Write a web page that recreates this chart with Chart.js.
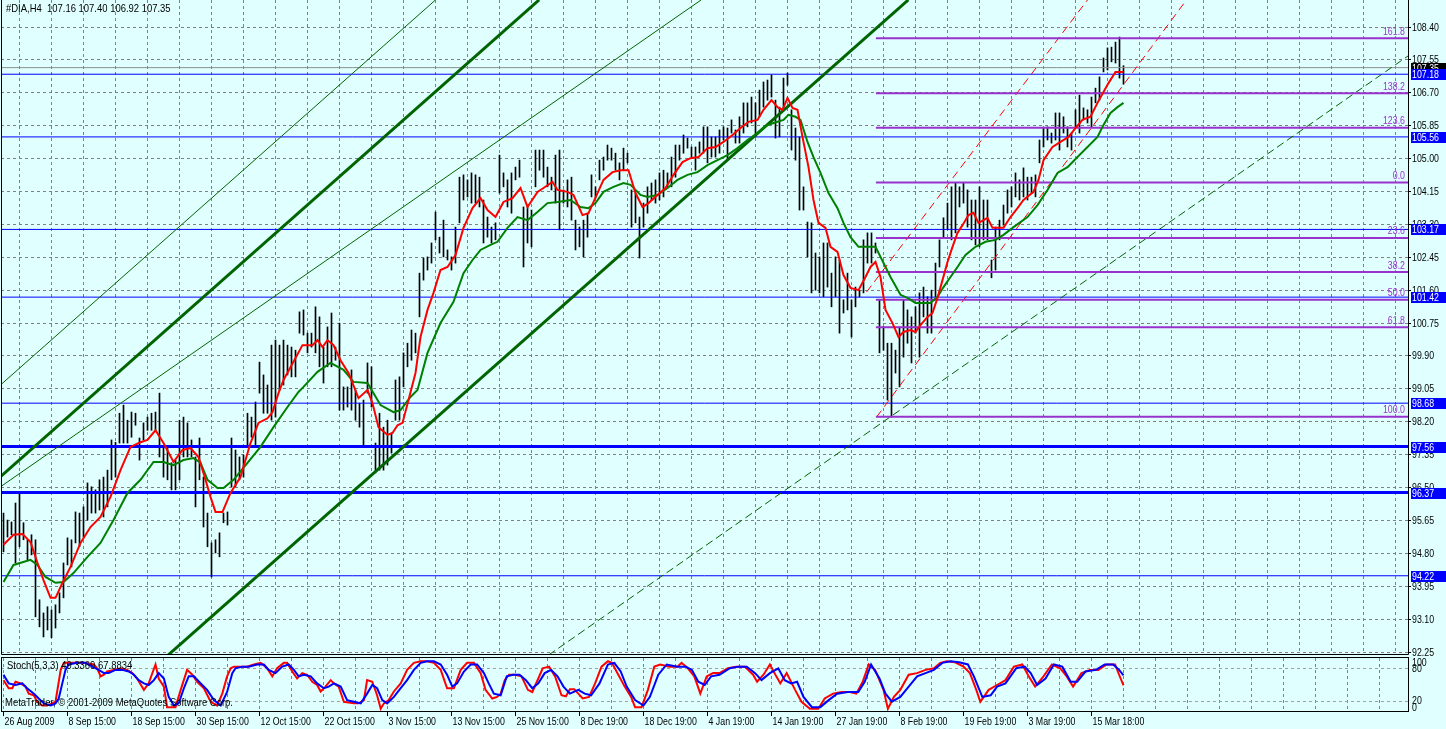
<!DOCTYPE html>
<html>
<head>
<meta charset="utf-8">
<title>#DIA,H4</title>
<script src="https://cdn.jsdelivr.net/npm/chart.js@4.4.0/dist/chart.umd.min.js"></script>
<style>
  html, body { margin: 0; padding: 0; background: #e0ffff; overflow: hidden; }
  #wrap { position: relative; width: 1446px; height: 729px; }
  canvas { position: absolute; left: 0; display: block; }
  #price { top: 0; }
  #stoch { top: 656px; }
</style>
</head>
<body>
<div id="wrap">
  <canvas id="price" width="1446" height="656"></canvas>
  <canvas id="stoch" width="1446" height="73"></canvas>
</div>
<script>
// ---- data ----
const symbol = '#DIA,H4';
const lastOHLC = [107.16, 107.40, 106.92, 107.35];

// one H4 bar per entry, oldest first
const barHigh = [
  95.84, 95.66, 95.61, 96.10, 96.36, 95.59, 95.15, 95.28, 95.15, 93.60,
  93.26, 93.42, 93.34, 93.47, 93.78, 94.55, 95.20, 95.15, 95.87, 95.84,
  96.00, 96.62, 96.52, 96.44, 96.70, 96.77, 96.95, 97.73, 97.67, 98.42,
  98.63, 98.24, 98.45, 98.42, 97.78, 98.17, 98.32, 98.42, 98.45, 98.94,
  97.55, 97.55, 97.14, 97.21, 98.24, 98.32, 98.17, 97.73, 97.29, 97.78,
  96.77, 95.84, 95.07, 95.15, 95.33, 95.84, 95.87, 97.78, 97.47, 97.29,
  97.34, 98.42, 98.32, 98.71, 99.74, 99.41, 99.15, 100.18, 100.31, 100.18,
  100.31, 100.18, 100.13, 100.05, 101.04, 101.09, 100.49, 100.49, 101.17, 100.91,
  100.13, 100.65, 101.01, 100.13, 100.75, 99.10, 99.10, 99.54, 99.02, 98.68,
  98.76, 99.72, 99.62, 97.65, 98.42, 98.06, 98.24, 97.91, 99.28, 99.36,
  99.98, 100.23, 100.57, 100.49, 102.04, 102.43, 102.46, 102.82, 103.62, 102.97,
  103.41, 102.64, 102.46, 103.23, 104.52, 104.58, 104.45, 104.63, 104.58, 104.52,
  103.93, 103.49, 103.23, 103.34, 105.09, 104.63, 104.45, 104.63, 104.78, 104.96,
  103.75, 103.75, 103.67, 105.22, 105.22, 105.22, 104.78, 104.52, 105.09, 105.22,
  104.19, 104.45, 104.52, 103.41, 103.23, 103.41, 103.59, 104.58, 104.27, 104.96,
  105.04, 105.35, 105.27, 105.14, 104.89, 105.27, 105.14, 104.19, 104.11, 103.49,
  103.85, 104.27, 104.37, 104.45, 104.63, 104.70, 104.63, 105.04, 105.35, 105.35,
  105.61, 105.53, 105.30, 105.30, 105.43, 105.82, 105.82, 105.56, 105.56, 105.74,
  105.82, 105.79, 106.00, 105.74, 106.08, 106.44, 106.44, 106.59, 106.44, 106.77,
  106.98, 107.03, 107.16, 106.51, 106.33, 107.08, 107.21, 106.26, 105.79, 105.56,
  104.27, 103.36, 103.34, 102.56, 102.46, 102.82, 102.82, 102.04, 102.46, 102.38,
  101.35, 102.04, 101.35, 101.68, 101.60, 102.90, 103.08, 103.08, 102.82, 101.35,
  100.65, 100.23, 100.23, 100.05, 100.65, 101.35, 101.09, 100.91, 101.17, 101.53,
  101.68, 101.43, 101.60, 102.30, 102.90, 103.47, 103.85, 104.27, 104.37, 104.27,
  104.37, 104.19, 103.93, 103.93, 104.27, 103.93, 103.93, 102.38, 103.23, 103.41,
  103.80, 104.19, 104.27, 104.63, 104.45, 104.76, 104.52, 104.52, 104.58, 105.48,
  105.79, 105.82, 105.66, 106.18, 106.18, 106.08, 105.82, 105.66, 106.26, 106.64,
  106.31, 106.26, 106.59, 106.82, 107.11, 107.60, 107.86, 107.88, 108.01, 108.14,
  107.40
];
const barLow = [
  94.84, 95.22, 95.28, 94.55, 94.97, 95.15, 94.63, 94.76, 93.16, 92.90,
  92.64, 92.82, 92.62, 92.87, 93.26, 93.65, 94.50, 94.45, 95.07, 94.97,
  95.22, 95.66, 95.84, 95.84, 95.92, 95.74, 96.00, 96.70, 96.77, 97.65,
  97.65, 97.65, 97.80, 98.11, 97.21, 97.73, 97.98, 97.98, 97.98, 97.29,
  96.77, 96.70, 96.44, 96.44, 96.70, 97.29, 97.29, 97.29, 96.00, 96.70,
  95.48, 94.97, 94.19, 94.81, 94.71, 95.59, 95.53, 96.52, 96.52, 96.70,
  96.77, 97.55, 97.80, 97.55, 98.94, 98.42, 98.42, 98.24, 98.32, 99.02,
  99.15, 99.41, 99.36, 99.36, 100.49, 100.44, 99.98, 100.13, 99.98, 99.62,
  99.20, 99.62, 99.62, 99.79, 98.50, 98.50, 98.58, 98.50, 98.24, 98.06,
  97.55, 98.94, 98.58, 96.88, 96.95, 96.95, 97.08, 97.39, 98.24, 98.24,
  99.10, 99.62, 99.79, 99.98, 100.91, 101.86, 102.12, 102.30, 102.90, 102.56,
  102.46, 102.38, 102.12, 102.30, 103.34, 103.93, 104.01, 103.85, 103.85, 103.75,
  102.82, 102.97, 102.82, 102.90, 104.11, 104.27, 103.75, 103.59, 104.45, 104.52,
  102.20, 102.82, 102.72, 104.27, 104.70, 104.52, 104.27, 104.19, 103.85, 103.16,
  103.85, 103.75, 103.41, 102.64, 102.72, 102.46, 102.97, 104.01, 103.98, 104.45,
  104.70, 104.96, 104.96, 104.70, 104.45, 104.70, 104.89, 103.23, 103.34, 102.43,
  103.23, 103.59, 103.93, 103.85, 103.93, 104.01, 104.27, 104.27, 104.52, 104.96,
  105.14, 105.27, 105.04, 104.70, 105.14, 105.14, 104.89, 105.04, 105.04, 105.14,
  105.48, 104.96, 105.66, 105.40, 105.40, 105.66, 105.82, 105.92, 105.56, 106.08,
  106.33, 106.51, 106.59, 105.53, 105.56, 106.26, 106.90, 105.22, 104.96, 103.67,
  103.67, 102.46, 101.53, 101.60, 101.53, 101.43, 101.68, 101.17, 101.43, 100.49,
  101.01, 101.09, 100.39, 101.17, 101.43, 101.53, 102.30, 102.30, 102.56, 99.98,
  100.05, 98.76, 98.32, 99.46, 99.10, 99.87, 100.23, 99.72, 100.49, 99.87,
  100.91, 100.49, 100.49, 101.43, 102.20, 102.97, 103.16, 102.90, 103.08, 103.75,
  103.85, 103.23, 102.90, 102.77, 102.72, 102.90, 102.90, 101.92, 102.12, 102.90,
  103.28, 103.59, 103.75, 104.01, 103.93, 104.01, 103.93, 104.11, 104.01, 104.89,
  105.30, 105.48, 105.40, 105.48, 105.22, 105.66, 105.30, 105.22, 105.82, 105.66,
  106.00, 105.92, 105.82, 106.44, 106.51, 107.24, 107.29, 107.50, 107.47, 107.08,
  106.92
];

// red (fast) moving average: bar position / price
const maRedPos = [0,2.5,4.75,6.75,8.5,10,11.75,13,14.75,16.75,19.25,21.75,24.25,26.75,29.25,31.75,34.25,36,38,40,
  42.5,44.75,46.75,48.75,50.5,51.75,53,54.75,56.75,59.25,61.75,63.75,66,67.25,68.75,70,71.75,74.75,77.25,78.5,
  79.75,81,82.5,84.25,86.25,88.75,91,92.25,93.75,96,97.25,98.5,99.75,101.25,103,104.25,106,107.5,109.25,111,
  113,115,117.25,119.25,121,123,125,127.25,129.25,131,133.5,135,137.25,138.5,141,142.5,144.75,146.25,148.5,150,
  152.25,154.25,156.25,158,159.75,161.25,163.5,165.5,167.5,169.75,171.75,173.75,176,178,180,182.25,184.25,186.25,188.5,190,
  192,193.5,194.75,196,197.25,198.5,199.75,201.25,202.5,203.75,205.5,206.75,208.5,210,211.75,213.75,215.5,216.75,218,219.25,
  220.5,222.25,223.75,225,226.75,228,229.25,231,232.25,233.5,234.75,236,237.25,238.5,239.75,241.25,242.5,243.75,245,246,
  247.25,250,251.75,253.5,255,257.5,258.75,260,262.25,264.25,266.25,268,269.75,271.75,273.5,275,276.25,278,280];
const maRedVal = [95.02,95.28,95.30,95.09,94.55,94.11,93.65,93.65,94.04,94.45,95.07,95.48,95.74,96.26,96.95,97.55,97.67,97.73,97.98,97.65,
  97.16,97.47,97.52,97.29,96.70,96.26,95.87,95.87,96.36,96.77,97.65,98.17,98.29,98.45,98.94,99.28,99.61,100.18,100.18,100.31,
  100.13,100.31,100.18,99.79,99.46,98.81,99.02,98.68,98.06,97.86,97.91,98.11,98.17,98.76,99.46,100.39,101.09,101.53,102.12,102.20,
  102.51,103.21,103.72,103.98,103.67,103.49,103.88,103.98,104.24,103.75,104.14,104.24,104.40,104.19,104.14,104.06,103.54,103.59,104.11,104.45,
  104.65,104.70,104.70,104.11,103.75,103.85,104.06,104.24,104.58,104.91,105.01,105.04,105.27,105.30,105.43,105.61,105.79,105.95,106.00,106.26,
  106.51,106.33,106.26,106.57,106.31,106.26,105.56,104.78,103.93,103.34,103.21,102.72,102.59,101.99,101.66,101.60,101.94,102.20,102.33,101.94,
  101.09,100.75,100.39,100.52,100.57,100.52,100.70,100.91,101.01,101.40,101.86,102.33,102.72,103.08,103.28,103.54,103.60,103.34,103.41,103.47,
  103.21,103.21,103.49,103.72,103.93,104.14,104.45,104.96,105.30,105.43,105.56,105.79,106.00,106.08,106.44,106.72,106.95,107.24,107.24];

// green (slow) moving average
const maGreenPos = [0,2.5,6.75,8.5,10.5,13,15,17.5,21,24.25,27.5,31,34.25,37.5,40,42.5,45,47.5,49.25,51,
  53.5,55,57.5,61,64.25,67.5,71,73.75,75,78.5,81.75,85,87.5,91,94.25,97.5,99.25,101.75,103.5,106,
  109.25,112.5,115,117.25,119.25,121.75,123.5,126,128.5,131,133.5,136,138.5,141.75,144.25,146.25,148,150,152.5,155,
  156.75,159.25,161,163.5,166,168.5,171,173.5,176,178.5,181,183.5,186,188.5,191,193.5,195,196.25,198,199.25,
  201,202.5,204.25,206.25,208.5,210,211.75,213.75,216,218,219.25,221.75,224.25,226,228,231.75,233.5,235,236.75,238.5,
  240.5,243,245.5,248,250,252.5,256,258.5,261,263.5,266,268.5,271,273.5,275,276.75,278.5,280];
const maGreenVal = [94.06,94.50,94.63,94.50,94.19,94.04,94.06,94.29,94.71,95.07,95.66,96.36,96.70,97.16,97.16,97.08,97.21,97.26,97.14,96.70,
  96.49,96.49,96.70,97.14,97.55,98.06,98.58,98.97,99.10,99.49,99.72,99.54,99.23,99.20,98.63,98.45,98.50,98.84,99.02,99.98,
  100.75,101.30,102.04,102.38,102.64,102.77,102.85,103.21,103.49,103.41,103.62,103.85,103.88,103.93,103.75,103.72,103.85,104.14,104.27,104.37,
  104.32,104.06,104.01,104.06,104.24,104.45,104.58,104.65,104.83,104.96,105.09,105.27,105.48,105.66,105.87,105.95,106.00,106.13,106.08,106.00,
  105.43,105.04,104.63,104.11,103.72,103.34,102.97,102.72,102.72,102.72,102.46,101.94,101.48,101.40,101.27,101.27,101.43,101.68,101.94,102.20,
  102.51,102.72,102.85,102.90,103.03,103.23,103.49,103.80,104.19,104.63,104.78,105.04,105.30,105.56,105.87,106.18,106.33,106.44];

// Stochastic (5,3,3): main (red) and signal (blue)
const stochParams = [5, 3, 3];
const stochLast = [49.3369, 67.8834];
const stochMainPos = [0,1.3,2.2,3,4.3,5.5,6.3,7.6,8.4,9.7,10.9,12.2,13,14.3,15.1,18.4,20.1,22.6,23.4,24.3,
  25.1,25.9,27.6,29.3,30.9,32.2,33.4,35.1,36.3,38,38.8,40.1,40.9,43,44.3,45.9,47.2,48.4,50.1,51.8,
  53.4,54.7,55.9,56.8,57.6,60.9,62.6,64.3,65.9,67.2,68.4,70.1,70.9,72.2,73.4,74.7,75.9,77.2,78.4,79.3,
  80.5,81.8,82.6,83.8,85.1,87.6,88.8,90.1,90.9,92.2,93.4,94.3,95.1,96.3,97.6,99.3,100.9,102.6,104.3,105.9,
  107.6,109.3,110.9,112.6,114.3,115.9,117.6,119.3,120.5,122.2,123.4,124.3,125.3,126.4,127.9,129.5,131.1,132.2,133.7,134.8,
  136.4,137.9,139.5,140.6,141.6,142.7,143.7,144.8,146.4,147.9,149.5,151.1,152.1,153.7,155.3,156.9,157.9,159.5,161.1,162.7,
  164.2,166.4,168.5,169.5,171.1,172.7,174.2,175.8,177.4,179,181.1,183.2,185.3,187.4,188.4,190,191.6,193.2,194.2,195.8,
  197.9,199.5,201.6,203.7,205.3,207.4,209.5,211.6,213.2,214.8,216.3,217.9,220,221.1,222.6,224.2,226.3,228.4,230.5,232.6,
  234.2,235.8,237.9,240,241.6,243.2,244.2,246.3,248.4,250.5,252.6,254.7,256.3,257.9,260,262.1,264.2,265.8,267.4,269.5,
  271.6,273.7,275.8,277.9,278.9,280];
const stochMainVal = [59,44,44,56,53,47,34,31,19,12,12,16,19,78,91,91,91,88,81,66,
  69,75,78,81,78,72,62,41,53,88,62,47,9,9,41,78,69,56,44,19,
  12,34,66,81,84,84,88,91,81,66,81,91,91,75,62,72,69,56,50,38,
  47,59,53,47,19,16,16,22,59,56,31,6,16,22,38,53,78,91,94,94,
  91,78,44,44,78,91,91,72,41,25,28,34,59,69,69,66,41,37,62,81,
  84,66,31,29,42,42,34,25,28,53,84,94,91,69,47,28,9,9,41,84,
  88,84,84,91,81,66,34,66,72,72,81,84,84,69,56,69,88,66,53,72,
  41,19,6,6,25,34,37,37,34,56,88,78,41,6,28,41,69,72,78,81,
  91,94,92,84,72,41,19,41,50,59,84,88,66,47,66,88,81,66,47,72,
  78,78,88,88,69,49.3];
const stochSignalPos = [0,1.3,3,4.7,5.9,7.6,8.8,10.1,11.8,13,13.8,14.7,15.5,16.3,18.4,20.5,22.2,23.8,25.1,26.3,
  28,29.7,31.3,32.6,33.8,35.1,36.3,37.6,38.8,40.1,41.3,42.6,43.8,45.1,46.3,47.6,49.3,50.9,52.6,54.3,
  55.9,57.2,58,59.7,61.3,63.4,65.1,66.3,68,69.7,71.3,72.6,73.8,75.1,76.8,78.4,80.1,81.3,82.6,84.3,
  85.9,87.6,89.3,90.9,92.2,93.4,94.7,95.9,97.6,99.3,100.9,102.6,104.3,105.9,107.6,109.3,110.9,112.2,113.4,115.1,
  116.8,118.4,120.1,121.3,122.6,124.3,125.8,127.4,129,130.6,132.2,133.7,135.3,136.9,138.5,140,141.6,143.7,145.3,146.9,
  149,151.1,152.7,154.3,155.8,157.9,160,161.6,163.7,165.8,168.5,170.6,172.1,173.7,175.3,176.9,179,181.6,183.7,185.8,
  187.9,189.5,191.6,193.7,195.3,196.9,198.4,200,202.1,204.2,206.3,208.4,211.1,213.7,215.3,216.9,219,220.5,222.1,224.2,
  226.3,228.4,230.5,232.6,234.7,236.8,238.9,241.1,242.6,244.7,246.8,248.4,250.5,253.2,255.3,256.8,258.4,260.5,262.6,264.7,
  266.8,268.4,270.5,273.1,275.3,277.4,278.9,280];
const stochSignalVal = [69,53,50,53,44,34,25,16,12,16,25,53,78,88,91,91,84,78,72,72,
  78,78,75,69,59,53,50,59,72,62,28,12,16,44,66,66,53,41,22,12,
  37,72,81,84,84,88,88,78,72,84,88,78,66,69,66,53,44,47,53,47,
  22,19,16,34,50,44,22,16,28,44,59,78,91,94,94,88,69,47,53,75,
  88,88,72,53,34,31,66,69,69,59,44,53,72,78,66,47,34,41,34,31,
  53,88,91,75,47,22,12,28,69,88,84,84,78,56,50,66,69,81,84,84,
  72,59,72,81,59,53,56,28,9,9,22,34,37,37,56,88,62,34,19,28,
  47,66,72,78,91,94,92,88,66,28,31,47,53,81,84,72,50,62,88,84,
  56,56,75,78,88,88,78,67.9];
const stochLevels = [20, 80];
const stochScaleLabels = [100, 80, 20, 0];

// axes
const priceTicks = [92.25, 93.10, 93.95, 94.80, 95.65, 96.50, 97.35, 98.20, 99.05, 99.90,
  100.75, 101.60, 102.45, 103.30, 104.15, 105.00, 105.85, 106.70, 107.55, 108.40];
const dateLabels = ['26 Aug 2009', '8 Sep 15:00', '18 Sep 15:00', '30 Sep 15:00', '12 Oct 15:00',
  '22 Oct 15:00', '3 Nov 15:00', '13 Nov 15:00', '25 Nov 15:00', '8 Dec 19:00', '18 Dec 19:00',
  '4 Jan 19:00', '14 Jan 19:00', '27 Jan 19:00', '8 Feb 19:00', '19 Feb 19:00', '3 Mar 19:00', '15 Mar 18:00'];
const dateLabelBars = [0, 16, 32, 48, 64, 80, 96, 112, 128, 144, 160, 176, 192, 208, 224, 240, 256, 272];

// horizontal price levels, bid line
const levelPrices = [107.18, 105.56, 103.17, 101.42, 98.68, 97.56, 96.37, 94.22];
const thickLevels = [97.56, 96.37];
const bidPrice = 107.35;

// fibonacci retracement
const fibLabels = ['161.8', '138.2', '123.6', '0.0', '23.6', '38.2', '50.0', '61.8', '100.0'];
const fibPrices = [108.11, 106.69, 105.80, 104.38, 102.95, 102.07, 101.35, 100.64, 98.33];
const fibStartBar = 218.1;

// trend lines: [bar1, price1, bar2, price2]
const trendThick = [[-0.75, 96.78, 133.9, 109.10], [41.15, 92.17, 226.2, 109.10]];
const trendThin = [[-0.75, 99.15, 108.0, 109.10], [-0.75, 96.52, 174.4, 109.10]];
const trendDashed = [[136.25, 92.17, 351.25, 107.66]];
const channelRed = [[215.75, 101.55, 271.0, 109.10], [218.25, 98.32, 295.75, 109.10]];

// ---- chart set-up ----
const X_MIN = -0.625, X_MAX = 351.125;
const P_MIN = 92.173, P_MAX = 109.098;
const FONT = "11px 'Liberation Sans', Arial, sans-serif";
const GRID = '#808080';

Chart.defaults.font.family = "'Liberation Sans', Arial, sans-serif";
Chart.defaults.font.size = 11;
Chart.defaults.color = '#000';

// narrow "MS Sans Serif"-like text: Liberation Sans squeezed horizontally
function text(ctx, str, x, y, align, baseline, color, squeeze) {
  ctx.save();
  ctx.translate(x, y);
  ctx.scale(squeeze || 0.8, 1);
  ctx.font = FONT;
  ctx.fillStyle = color || '#000';
  ctx.textAlign = align;
  ctx.textBaseline = baseline;
  ctx.fillText(str, 0, 0);
  ctx.restore();
}

const gridBars = [];
for (let b = 0; b <= X_MAX; b += 8) gridBars.push(b);

const pts = (xs, ys) => xs.map((x, k) => ({x: x, y: ys[k]}));
const seg = (t) => [{x: t[0], y: t[1]}, {x: t[2], y: t[3]}];
const lineDs = (data, color, width, order, dash) => ({
  type: 'line', data: data, borderColor: color, borderWidth: width, borderDash: dash || [],
  pointRadius: 0, fill: false, tension: 0, order: order, clip: 0, borderCapStyle: 'butt'
});

const priceSets = [];
priceSets.push(lineDs(pts(maRedPos, maRedVal), '#ff0000', 2, 1));
priceSets.push(lineDs(pts(maGreenPos, maGreenVal), '#008000', 2, 2));
fibPrices.forEach(p => priceSets.push(lineDs([{x: fibStartBar, y: p}, {x: X_MAX, y: p}], '#9932cc', 2, 3)));
channelRed.forEach(t => priceSets.push(lineDs(seg(t), '#ff0000', 1, 4, [8, 5])));
trendDashed.forEach(t => priceSets.push(lineDs(seg(t), '#006400', 1, 4, [8, 4])));
trendThick.forEach(t => priceSets.push(lineDs(seg(t), '#006400', 3, 5)));
trendThin.forEach(t => priceSets.push(lineDs(seg(t), '#006400', 1, 5)));
levelPrices.forEach(p => priceSets.push(lineDs([{x: X_MIN, y: p}, {x: X_MAX, y: p}], '#0000ff',
  thickLevels.includes(p) ? 3 : 1, 6)));
priceSets.push(lineDs([{x: X_MIN, y: bidPrice}, {x: X_MAX, y: bidPrice}], '#8c8c8c', 1, 7));
priceSets.push({
  type: 'bar', data: barHigh.map((h, i) => ({x: i, y: [barLow[i], h]})),
  backgroundColor: '#000', borderWidth: 0, barThickness: 1, order: 10, grouped: false
});

const pricePlugin = {
  id: 'priceDecor',
  afterDraw(chart) {
    const ctx = chart.ctx, ca = chart.chartArea, ys = chart.scales.y;
    ctx.save();
    ctx.strokeStyle = '#000';
    ctx.lineWidth = 1;
    ctx.beginPath();
    ctx.moveTo(ca.left + 0.5, 0); ctx.lineTo(ca.left + 0.5, ca.bottom - 0.5);
    ctx.lineTo(ca.right + 0.5, ca.bottom - 0.5); ctx.lineTo(ca.right + 0.5, 0);
    ctx.stroke();
    ctx.restore();

    text(ctx, symbol + '  ' + lastOHLC.map(v => v.toFixed(2)).join(' '), 6, 3, 'left', 'top', '#000', 0.86);

    // price scale labels
    priceTicks.forEach(v => text(ctx, v.toFixed(2), ca.right + 4, ys.getPixelForValue(v) + 0.5, 'left', 'middle'));

    // fibo level captions
    fibPrices.forEach((p, k) =>
      text(ctx, fibLabels[k], ca.right - 3, ys.getPixelForValue(p) - 1, 'right', 'bottom', '#9932cc'));

    // price tags on the axis
    const tag = (p, bg) => {
      const y = Math.round(ys.getPixelForValue(p));
      ctx.fillStyle = bg;
      ctx.fillRect(ca.right + 3, y - 5, 38, 11);
      text(ctx, p.toFixed(2), ca.right + 4, y + 0.5, 'left', 'middle', '#fff');
    };
    tag(bidPrice, '#000');
    levelPrices.forEach(p => tag(p, '#0000ff'));
  }
};

new Chart(document.getElementById('price'), {
  type: 'line',
  data: { datasets: priceSets },
  options: {
    responsive: false, maintainAspectRatio: false, animation: false, devicePixelRatio: 1, events: [],
    layout: { padding: { left: 1, right: 0, top: 0, bottom: 1 } },
    plugins: { legend: { display: false }, tooltip: { enabled: false } },
    scales: {
      x: {
        type: 'linear', min: X_MIN, max: X_MAX, offset: false,
        afterBuildTicks: s => { s.ticks = gridBars.map(v => ({value: v})); },
        afterFit: s => { s.height = 0; },
        ticks: { display: false },
        grid: { color: GRID, drawTicks: false },
        border: { display: false, dash: [3, 3] }
      },
      y: {
        type: 'linear', position: 'right', min: P_MIN, max: P_MAX,
        afterBuildTicks: s => { s.ticks = priceTicks.map(v => ({value: v})); },
        afterFit: s => { s.width = 38; },
        ticks: { display: false },
        grid: { color: GRID, drawTicks: true, tickLength: 3, tickColor: '#000', tickBorderDash: [] },
        border: { display: false, dash: [3, 3] }
      }
    }
  },
  plugins: [pricePlugin]
});

const stochPlugin = {
  id: 'stochDecor',
  afterDraw(chart) {
    const ctx = chart.ctx, ca = chart.chartArea, ys = chart.scales.y, xs = chart.scales.x;
    ctx.save();
    ctx.strokeStyle = '#000';
    ctx.lineWidth = 1;
    ctx.strokeRect(ca.left + 0.5, ca.top - 0.5, ca.right - ca.left, ca.bottom - ca.top);
    ctx.restore();
    text(ctx, 'Stoch(' + stochParams.join(',') + ') ' + stochLast.map(v => v.toFixed(4)).join(' '),
      7, 4, 'left', 'top', '#000', 0.86);
    text(ctx, 'MetaTrader, \u00a9 2001-2009 MetaQuotes Software Corp.', 5, 41, 'left', 'top', '#000', 0.86);
    stochScaleLabels.forEach(v => {
      const y = ys.getPixelForValue(v);
      const base = v === 100 ? 'top' : (v === 0 ? 'bottom' : 'middle');
      text(ctx, String(v), ca.right + 4, v === 100 ? y - 1 : (v === 0 ? y + 1 : y), 'left', base);
    });
    dateLabelBars.forEach((b, k) =>
      text(ctx, dateLabels[k], xs.getPixelForValue(b) + 1, ca.bottom + 10, 'left', 'middle'));
  }
};

new Chart(document.getElementById('stoch'), {
  type: 'line',
  data: {
    datasets: [
      lineDs(pts(stochSignalPos, stochSignalVal), '#0000ff', 2, 1),
      lineDs(pts(stochMainPos, stochMainVal), '#ff0000', 2, 2)
    ]
  },
  options: {
    responsive: false, maintainAspectRatio: false, animation: false, devicePixelRatio: 1, events: [],
    layout: { padding: { left: 1, right: 0, top: 2, bottom: 0 } },
    plugins: { legend: { display: false }, tooltip: { enabled: false } },
    scales: {
      x: {
        type: 'linear', min: X_MIN, max: X_MAX, offset: false, position: 'bottom',
        afterBuildTicks: s => { s.ticks = gridBars.map(v => ({value: v})); },
        afterFit: s => { s.height = 17; },
        ticks: { display: false },
        grid: {
          color: GRID, drawTicks: true, tickLength: 4, tickBorderDash: [],
          tickColor: c => (c.tick && dateLabelBars.includes(c.tick.value)) ? '#000' : 'rgba(0,0,0,0)'
        },
        border: { display: false, dash: [3, 3] }
      },
      y: {
        type: 'linear', position: 'right', min: 0, max: 100,
        afterBuildTicks: s => { s.ticks = stochLevels.map(v => ({value: v})); },
        afterFit: s => { s.width = 38; },
        ticks: { display: false },
        grid: { color: '#a0a0a0', drawTicks: false },
        border: { display: false, dash: [3, 3] }
      }
    }
  },
  plugins: [stochPlugin]
});
</script>
</body>
</html>
